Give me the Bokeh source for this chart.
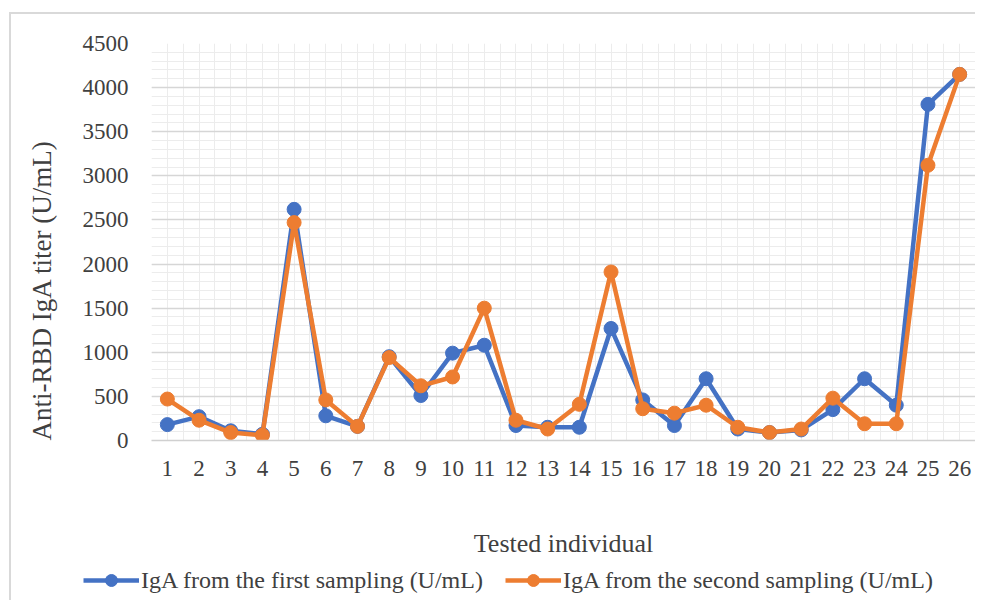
from bokeh.plotting import figure
from bokeh.layouts import column
from bokeh.models import FixedTicker, Legend, LegendItem, Range1d, Title
from bokeh.embed import file_html
from bokeh.resources import INLINE

individuals = list(range(1, 27))
x_labels = [str(i) for i in individuals]
first_sampling = [180, 270, 110, 70, 2620, 280, 160, 950, 510, 990, 1080, 170, 150, 150,
                  1270, 460, 170, 700, 130, 90, 120, 350, 700, 400, 3810, 4150]
second_sampling = [470, 230, 90, 60, 2470, 460, 160, 940, 620, 720, 1500, 230, 130, 410,
                   1910, 360, 310, 400, 150, 90, 130, 480, 190, 190, 3120, 4150]
y_ticks = [0, 500, 1000, 1500, 2000, 2500, 3000, 3500, 4000, 4500]
series_names = ["IgA from the first sampling (U/mL)", "IgA from the second sampling (U/mL)"]

BLUE = "#4472C4"
ORANGE = "#ED7D31"
FONT = "Liberation Serif"
TEXT = "#404040"
BORDER = "#d9d9d9"

p = figure(width=975, height=562, output_backend="svg", toolbar_location=None,
           x_range=Range1d(0.5, 26.5), y_range=Range1d(0, 4500),
           min_border_left=151, min_border_right=0, min_border_top=43, min_border_bottom=122)
p.frame_align = False
p.outline_line_color = None
p.background_fill_color = "white"
p.border_fill_color = None
p.styles = {"background": f"linear-gradient({BORDER}, {BORDER}) 9px 12px / 2px 100% no-repeat, "
                          f"linear-gradient({BORDER}, {BORDER}) 9px 12px / 100% 2px no-repeat, white"}

# gridlines
p.xgrid.ticker = FixedTicker(ticks=[i / 2 for i in range(1, 54)])
p.xgrid.grid_line_color = "#ececec"
p.xgrid.grid_line_width = 1
p.ygrid.ticker = FixedTicker(ticks=y_ticks, minor_ticks=list(range(0, 4501, 100)))
p.ygrid.grid_line_color = "#d6d6d6"
p.ygrid.grid_line_width = 1.5
p.ygrid.minor_grid_line_color = "#ececec"
p.ygrid.minor_grid_line_width = 1

# axes
p.xaxis.ticker = FixedTicker(ticks=individuals)
p.xaxis.major_label_overrides = {i: s for i, s in zip(individuals, x_labels)}
p.yaxis.ticker = FixedTicker(ticks=y_ticks)
for ax in (p.xaxis[0], p.yaxis[0]):
    ax.major_tick_line_color = None
    ax.minor_tick_line_color = None
    ax.major_label_text_font = FONT
    ax.major_label_text_font_size = "23px"
    ax.major_label_text_color = TEXT
    ax.axis_label_text_font = FONT
    ax.axis_label_text_font_size = "26px"
    ax.axis_label_text_font_style = "normal"
    ax.axis_label_text_color = TEXT
p.xaxis.axis_line_color = "#d0d0d0"
p.xaxis.axis_line_width = 1.5
p.yaxis.axis_line_color = None
p.xaxis.major_label_standoff = 14
p.yaxis.major_label_standoff = 17
p.xaxis.axis_label = "Tested individual"
p.xaxis.axis_label_standoff = 50

ytitle = Title(text="Anti-RBD IgA titer (U/mL)", align="left", offset=0,
               text_font=FONT, text_font_size="27px", text_font_style="normal",
               text_color=TEXT, standoff=46)
p.add_layout(ytitle, "left")

# series
p.line(individuals, first_sampling, line_color=BLUE, line_width=4.5)
p.scatter(individuals, first_sampling, size=14, fill_color=BLUE, line_color=BLUE)
p.line(individuals, second_sampling, line_color=ORANGE, line_width=4.5)
p.scatter(individuals, second_sampling, size=14, fill_color=ORANGE, line_color=ORANGE)

# legend strip below the chart (its renderers fall outside its own tiny ranges)
lg = figure(width=975, height=38, output_backend="svg", toolbar_location=None,
            x_range=Range1d(-1, -0.5), y_range=Range1d(-1, -0.5),
            x_axis_location=None, y_axis_location=None,
            min_border_left=0, min_border_right=0, min_border_top=0, min_border_bottom=0)
lg.frame_align = False
lg.grid.visible = False
lg.outline_line_color = None
lg.border_fill_color = None
lg.background_fill_color = None
lg.styles = {"background": f"linear-gradient({BORDER}, {BORDER}) 9px 0px / 2px 100% no-repeat, white"}
items = []
for name, color, vals in zip(series_names, [BLUE, ORANGE], [first_sampling, second_sampling]):
    lr = lg.line(individuals, vals, line_color=color, line_width=4.5)
    sr = lg.scatter(individuals, vals, size=14, fill_color=color, line_color=color)
    items.append(LegendItem(label=name, renderers=[lr, sr]))
legend = Legend(items=items, orientation="horizontal", location=(83, 5))
legend.label_text_font = FONT
legend.label_text_font_size = "24px"
legend.label_text_color = TEXT
legend.glyph_width = 56
legend.glyph_height = 30
legend.label_standoff = 2
legend.spacing = 22
legend.padding = 0
legend.margin = 0
legend.border_line_color = None
legend.background_fill_alpha = 0
lg.add_layout(legend, "center")

layout = column(p, lg, spacing=0)
open("out.html", "w").write(file_html(layout, INLINE))
